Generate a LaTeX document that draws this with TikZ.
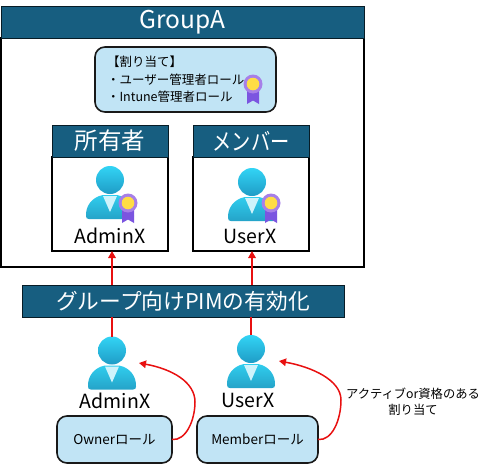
\documentclass[tikz,border=0pt]{standalone}
\usepackage{fontspec}
\setmainfont{Noto Sans CJK JP}
\usetikzlibrary{arrows.meta,calc}
\definecolor{hdr}{HTML}{175E80}
\definecolor{lblue}{HTML}{C1E4F5}
\definecolor{redline}{HTML}{E81010}
\definecolor{ptop}{HTML}{32D4F5}
\definecolor{pbot}{HTML}{1F9CC6}
\definecolor{btop}{HTML}{30CDEE}
\definecolor{bbot}{HTML}{25A3C8}
\definecolor{collar}{HTML}{CFF3FB}
\definecolor{rib}{HTML}{7B55E0}
\definecolor{ring}{HTML}{A77FE8}
\definecolor{gold}{HTML}{FFDD45}
\newcommand{\fs}[1]{\fontsize{#1}{#1}\selectfont}
\tikzset{
  x=1pt,y=-1pt,
  every node/.style={inner sep=0pt,outer sep=0pt},
  header/.style={draw=black!70!hdr,line width=1pt,fill=hdr,text=white,anchor=north west},
  panel/.style={draw=black,line width=1.5pt,fill=white,anchor=north west},
  rolebox/.style={draw=black!90,line width=1.6pt,fill=lblue,rounded corners=10pt,anchor=north west},
  redconn/.style={draw=redline,line width=1.5pt},
  redarrow/.style={redconn,-{Triangle[length=7pt,width=7.5pt]}},
  headc/.style={circle,minimum size=28pt,top color=ptop,bottom color=pbot},
  pics/person/.style={code={
    \shade[top color=btop,bottom color=bbot]
      (-24,36) .. controls (-24.5,26) and (-18,17) .. (-7,15)
      -- (7,15) .. controls (18,17) and (24.5,26) .. (24,36)
      .. controls (24,38) and (23,39) .. (21,39) -- (-21,39)
      .. controls (-23,39) and (-24,38) .. (-24,36) -- cycle;
    \fill[collar] (-7,16) -- (7,16) -- (0,32) -- cycle;
  }},
  pics/badge/.style={code={
    \fill[rib] (-6,3) -- (6,3) -- (6,20) -- (0,16.5) -- (-6,20) -- cycle;
    \fill[ring] (0,0) circle (9.5);
    \fill[gold] (0,0) circle (6.3);
  }}
}
\begin{document}
\begin{tikzpicture}
\useasboundingbox (0,0) rectangle (493,466);
% group
\node[panel,minimum width=363pt,minimum height=229pt] (groupbody) at (1,38) {};
\node[header,minimum width=363pt,minimum height=32pt] (grouphead) at (1,6) {\fs{24.5}GroupA};
% role box
\node[rolebox,minimum width=181pt,minimum height=65pt] (assign) at (95,47) {};
\node[anchor=west] (assign1) at (107,62) {\fs{12.5}【割り当て】};
\node[anchor=west] (assign2) at (107,80) {\fs{12.5}・ユーザー管理者ロール};
\node[anchor=west] (assign3) at (107,97) {\fs{12.5}・Intune管理者ロール};
\pic at (253,84) {badge};
% owners panel
\node[panel,minimum width=116pt,minimum height=94pt] (ownerbody) at (52,157) {};
\node[header,minimum width=116pt,minimum height=32pt] (ownerhead) at (52,125) {\fs{23.5}所有者};
\node[panel,minimum width=116pt,minimum height=94pt] (memberbody) at (193,157) {};
\node[header,minimum width=116pt,minimum height=32pt] (memberhead) at (193,125) {\fs{23.5}\scalebox{0.82}[1]{メンバー}};
% inner persons
\pic at (110,180) {person};
\node[headc] (ownerhd) at (110,180) {};
\pic at (128,203) {badge};
\node (ownername) at (110,236) {\fs{19.5}AdminX};
\pic at (252,182) {person};
\node[headc] (memberhd) at (252,182) {};
\pic at (271,203) {badge};
\node (membername) at (250,236) {\fs{19.5}UserX};
% PIM
\node[header,minimum width=322pt,minimum height=32pt] (pim) at (22,285) {\fs{21.7}グループ向けPIMの有効化};
% lower persons
\pic at (112,350.5) {person};
\node[headc] (lowadminhd) at (112,350.5) {};
\node (lowadminname) at (115,401) {\fs{19.5}AdminX};
\pic at (251,349) {person};
\node[headc] (lowuserhd) at (251,349) {};
\node (lowusername) at (248,400) {\fs{19.5}UserX};
% role boxes
\node[rolebox,minimum width=115pt,minimum height=47pt] (ownerrole) at (57,416) {\fs{13.5}Ownerロール};
\node[rolebox,minimum width=121pt,minimum height=47pt] (memberrole) at (197,416) {\fs{13.5}Memberロール};
% connectors
\coordinate (adminin) at (139,363);
\coordinate (userin) at (279,361);
\draw[redarrow] (pim.north -| lowadminhd.north) -- (ownerbody.south -| lowadminhd.north);
\draw[redarrow] (pim.north -| memberhd.south) -- (memberbody.south -| memberhd.south);
\draw[redconn] (pim.south -| lowadminhd.north) -- (lowadminhd.north);
\draw[redconn] (pim.south -| lowuserhd.north) -- (lowuserhd.north);
\draw[redarrow] (ownerrole.east) .. controls (186,441) and (195,420) .. (195,402) .. controls (195,382) and (172,369) .. (adminin);
\draw[redarrow] (memberrole.east) .. controls (332,441) and (341,420) .. (341,400) .. controls (341,380) and (312,367) .. (userin);
% label
\node[align=center] (assignlabel) at (413,402) {\fs{12.3}アクティブor資格のある\\[4pt]\fs{12.3}割り当て};
\end{tikzpicture}
\end{document}
